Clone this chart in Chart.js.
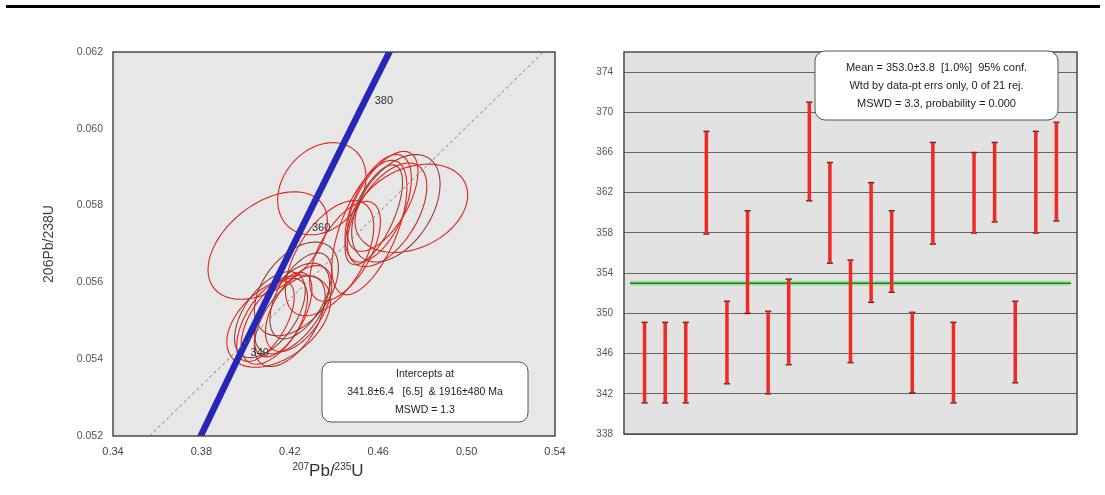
<!DOCTYPE html>
<html>
<head>
<meta charset="utf-8">
<script src="https://cdn.jsdelivr.net/npm/chart.js@4.4.1/dist/chart.umd.min.js"></script>
<style>
  body { margin: 0; background: #fff; width: 1105px; height: 495px; position: relative; overflow: hidden; }
  .rule { position: absolute; left: 6px; top: 5px; width: 1094px; height: 3px; background: #000; }
  #concordia { position: absolute; left: 0; top: 0; }
  #ages { position: absolute; left: 570px; top: 0; }
</style>
</head>
<body>
<div class="rule"></div>
<canvas id="concordia" width="570" height="495"></canvas>
<canvas id="ages" width="535" height="495"></canvas>
<script>
// ---- concordia diagram ----
const xTicks = [0.34, 0.38, 0.42, 0.46, 0.50, 0.54]
const yTicks = [0.052, 0.054, 0.056, 0.058, 0.060, 0.062]

// spot analyses: ratio, 2s error, error correlation
const pb207u235 = [0.4150, 0.4200, 0.4130, 0.4600, 0.4210, 0.4380, 0.4170, 0.4250, 0.4345, 0.4560, 0.4230,
                   0.4100, 0.4450, 0.4110, 0.4640, 0.4090, 0.4580, 0.4750, 0.4240, 0.4680, 0.4620]
const err207 = [0.0235, 0.0160, 0.0150, 0.0150, 0.0170, 0.0200, 0.0130, 0.0140, 0.0200, 0.0170, 0.0190,
                0.0270, 0.0160, 0.0160, 0.0180, 0.0130, 0.0130, 0.0255, 0.0150, 0.0200, 0.0160]
const pb206u238 = [0.05499, 0.05499, 0.05499, 0.05793, 0.05532, 0.05663, 0.05516, 0.05565, 0.05844, 0.05743, 0.05583,
                   0.05696, 0.05681, 0.05516, 0.05776, 0.05499, 0.05776, 0.05793, 0.05532, 0.05793, 0.05811]
const err206 = [0.00120, 0.00118, 0.00112, 0.00140, 0.00118, 0.00150, 0.00110, 0.00112, 0.00120, 0.00175, 0.00122,
                0.00140, 0.00130, 0.00112, 0.00135, 0.00105, 0.00130, 0.00115, 0.00112, 0.00140, 0.00130]
const rho = [0.45, 0.55, 0.55, 0.55, 0.55, 0.55, 0.60, 0.55, 0.25, 0.60, 0.45,
             0.45, 0.60, 0.55, 0.55, 0.60, 0.65, 0.30, 0.55, 0.45, 0.60]

// concordia curve, ages in Ma
const concAges = [320, 330, 340, 350, 360, 370, 380, 390]
const concX = [0.3705, 0.3840, 0.3977, 0.4115, 0.4255, 0.4397, 0.4539, 0.4683]
const concY = [0.05089, 0.05252, 0.05416, 0.05579, 0.05743, 0.05908, 0.06072, 0.06237]
const concLabelAges = [340, 360, 380]

// discordia line between the intercepts
const discX = [0.3565, 0.5348]
const discY = [0.052, 0.062]

const interceptText = ['Intercepts at', '341.8\u00b16.4   [6.5]  & 1916\u00b1480 Ma', 'MSWD = 1.3']
const xTitle = [['207', true], ['Pb/', false], ['235', true], ['U', false]]

// ---- 206Pb/238U ages ----
const ageTicks = [338, 342, 346, 350, 354, 358, 362, 366, 370, 374]
const ageLow = [341.1, 341.1, 341.1, 357.9, 343.0, 350.0, 342.0, 344.9, 361.2, 355.0, 345.1,
                351.1, 352.1, 342.1, 356.9, 341.1, 358.0, 359.1, 343.1, 358.0, 359.2]
const ageHigh = [349.1, 349.1, 349.1, 368.1, 351.2, 360.2, 350.2, 353.4, 371.0, 365.0, 355.3,
                 363.0, 360.2, 350.1, 367.0, 349.1, 366.0, 367.0, 351.2, 368.1, 369.0]
const meanAge = 353.0
const meanText = ['Mean = 353.0\u00b13.8  [1.0%]  95% conf.',
                  'Wtd by data-pt errs only, 0 of 21 rej.',
                  'MSWD = 3.3, probability = 0.000']

const font = 'Arial, "Liberation Sans", sans-serif'

function roundBox(ctx, x, y, w, h, r, lines, size, gap) {
    ctx.save()
    ctx.beginPath()
    ctx.roundRect(x, y, w, h, r)
    ctx.fillStyle = '#fff'
    ctx.fill()
    ctx.strokeStyle = '#555'
    ctx.lineWidth = 1
    ctx.stroke()
    ctx.fillStyle = '#222'
    ctx.font = size + 'px ' + font
    ctx.textAlign = 'center'
    ctx.textBaseline = 'middle'
    const top = y + h / 2 - gap * (lines.length - 1) / 2
    lines.forEach((t, i) => ctx.fillText(t, x + w / 2, top + i * gap))
    ctx.restore()
}

const plotFrame = {
    id: 'plotFrame',
    beforeDraw(chart, args, opts) {
        const a = chart.chartArea
        chart.ctx.save()
        chart.ctx.fillStyle = opts.fill
        chart.ctx.fillRect(a.left, a.top, a.width, a.height)
        chart.ctx.restore()
    },
    afterDatasetsDraw(chart) {
        const a = chart.chartArea
        const ctx = chart.ctx
        ctx.save()
        ctx.strokeStyle = '#4a4a4a'
        ctx.lineWidth = 1.5
        ctx.strokeRect(a.left, a.top, a.width, a.height)
        ctx.restore()
    }
}

const errorEllipses = {
    id: 'errorEllipses',
    beforeDatasetsDraw(chart) {
        const {ctx, chartArea: a} = chart
        const sx = chart.scales.x, sy = chart.scales.y
        ctx.save()
        ctx.beginPath()
        ctx.rect(a.left, a.top, a.width, a.height)
        ctx.clip()
        pb207u235.forEach((cx, i) => {
            const r = rho[i], q = Math.sqrt(1 - r * r)
            ctx.beginPath()
            for (let k = 0; k <= 90; k++) {
                const t = k / 90 * Math.PI * 2
                const px = sx.getPixelForValue(cx + err207[i] * Math.cos(t))
                const py = sy.getPixelForValue(pb206u238[i] + err206[i] * (r * Math.cos(t) + q * Math.sin(t)))
                if (k == 0) ctx.moveTo(px, py)
                else ctx.lineTo(px, py)
            }
            ctx.strokeStyle = i % 3 == 1 ? '#9b3a30' : '#e0231c'
            ctx.lineWidth = 1.1
            ctx.stroke()
        })
        ctx.restore()
    },
    afterDatasetsDraw(chart) {
        const ctx = chart.ctx
        const sx = chart.scales.x, sy = chart.scales.y
        const a = chart.chartArea
        ctx.save()
        ctx.fillStyle = '#333'
        ctx.font = '11px ' + font
        ctx.textBaseline = 'middle'
        concLabelAges.forEach(age => {
            const i = concAges.indexOf(age)
            ctx.fillText(String(age), sx.getPixelForValue(concX[i]) + 10, sy.getPixelForValue(concY[i]))
        })
        ctx.restore()
        roundBox(ctx, a.right - 233, a.bottom - 74, 206, 60, 9, interceptText, 10.5, 18)
    },
    afterDraw(chart) {
        // x axis title with superscript mass numbers
        const ctx = chart.ctx
        const a = chart.chartArea
        ctx.save()
        ctx.fillStyle = '#333'
        ctx.textBaseline = 'alphabetic'
        const big = '17px ' + font, small = '10px ' + font
        let w = 0
        xTitle.forEach(([t, sup]) => { ctx.font = sup ? small : big; w += ctx.measureText(t).width })
        let x = (a.left + a.right) / 2 - w / 2 - 6
        xTitle.forEach(([t, sup]) => {
            ctx.font = sup ? small : big
            ctx.fillText(t, x, sup ? 470 : 476)
            x += ctx.measureText(t).width
        })
        ctx.restore()
    }
}

new Chart(document.getElementById('concordia'), {
    type: 'scatter',
    data: {
        datasets: [
            {
                type: 'line',
                data: discX.map((x, i) => ({x: x, y: discY[i]})),
                borderColor: '#7a7a7a',
                borderWidth: 1,
                borderDash: [3, 3],
                pointRadius: 0
            },
            {
                type: 'line',
                data: concX.map((x, i) => ({x: x, y: concY[i]})),
                borderColor: '#2626b8',
                borderWidth: 6.5,
                pointRadius: 0
            },
            {
                type: 'line',
                data: concX.map((x, i) => ({x: x, y: concY[i]})),
                borderColor: '#10106a',
                borderWidth: 3.5,
                pointRadius: 0
            }
        ]
    },
    options: {
        responsive: false,
        animation: false,
        layout: {padding: {top: 52, right: 15, left: 0, bottom: 0}},
        plugins: {legend: {display: false}, tooltip: {enabled: false}, plotFrame: {fill: '#e7e7e7'}},
        scales: {
            x: {
                min: 0.34, max: 0.54,
                afterBuildTicks: s => { s.ticks = xTicks.map(v => ({value: v})) },
                afterFit: s => { s.height = 59; s.paddingLeft = 0; s.paddingRight = 0 },
                grid: {display: false, drawTicks: false},
                border: {display: false},
                ticks: {callback: v => v.toFixed(2), color: '#444', padding: 9, font: {family: font, size: 11}}
            },
            y: {
                min: 0.052, max: 0.062,
                afterBuildTicks: s => { s.ticks = yTicks.map(v => ({value: v})) },
                afterFit: s => { s.width = 113 },
                grid: {display: false, drawTicks: false},
                border: {display: false},
                ticks: {callback: v => v.toFixed(3), color: '#555', padding: 10, font: {family: font, size: 10.5}},
                title: {display: true, text: '206Pb/238U', color: '#444',
                        padding: {top: 41, bottom: 0}, font: {family: font, size: 14}}
            }
        }
    },
    plugins: [plotFrame, errorEllipses]
})

// ---- weighted mean plot ----
const barSegments = []
ageLow.forEach((lo, i) => {
    barSegments.push({x: i + 1, y: lo}, {x: i + 1, y: ageHigh[i]}, {x: i + 1, y: null})
})
const caps = ageLow.map((v, i) => ({x: i + 1, y: v})).concat(ageHigh.map((v, i) => ({x: i + 1, y: v})))

const meanLine = {
    id: 'meanLine',
    beforeDatasetsDraw(chart) {
        const a = chart.chartArea
        const y = chart.scales.y.getPixelForValue(meanAge)
        const ctx = chart.ctx
        ctx.save()
        ctx.strokeStyle = '#9be89b'
        ctx.lineWidth = 5
        ctx.beginPath(); ctx.moveTo(a.left + 6, y); ctx.lineTo(a.right - 6, y); ctx.stroke()
        ctx.strokeStyle = '#2f6f2f'
        ctx.lineWidth = 1.6
        ctx.beginPath(); ctx.moveTo(a.left + 6, y); ctx.lineTo(a.right - 6, y); ctx.stroke()
        ctx.restore()
    },
    afterDraw(chart) {
        const a = chart.chartArea
        roundBox(chart.ctx, a.right - 262, a.top - 1, 243, 69, 10, meanText, 11, 18)
    }
}

new Chart(document.getElementById('ages'), {
    type: 'scatter',
    data: {
        datasets: [
            {
                type: 'line',
                data: barSegments,
                borderColor: '#f02a22',
                borderWidth: 3.5,
                pointRadius: 0,
                spanGaps: false
            },
            {
                type: 'line',
                data: barSegments,
                borderColor: '#6e1a16',
                borderWidth: 1,
                pointRadius: 0,
                spanGaps: false
            },
            {
                data: caps,
                pointStyle: 'line',
                pointRadius: 3,
                borderColor: '#5a1512',
                borderWidth: 1.5
            }
        ]
    },
    options: {
        responsive: false,
        animation: false,
        layout: {padding: {top: 52, right: 28, left: 0, bottom: 61}},
        plugins: {legend: {display: false}, tooltip: {enabled: false}, plotFrame: {fill: '#e2e2e2'}},
        scales: {
            x: {min: 0, max: 22, display: false},
            y: {
                min: 338, max: 376,
                afterBuildTicks: s => { s.ticks = ageTicks.map(v => ({value: v})) },
                afterFit: s => { s.width = 54 },
                grid: {color: '#666', lineWidth: 1, drawTicks: false},
                border: {display: false},
                ticks: {color: '#555', padding: 11, font: {family: font, size: 10}}
            }
        }
    },
    plugins: [plotFrame, meanLine]
})
</script>
</body>
</html>
